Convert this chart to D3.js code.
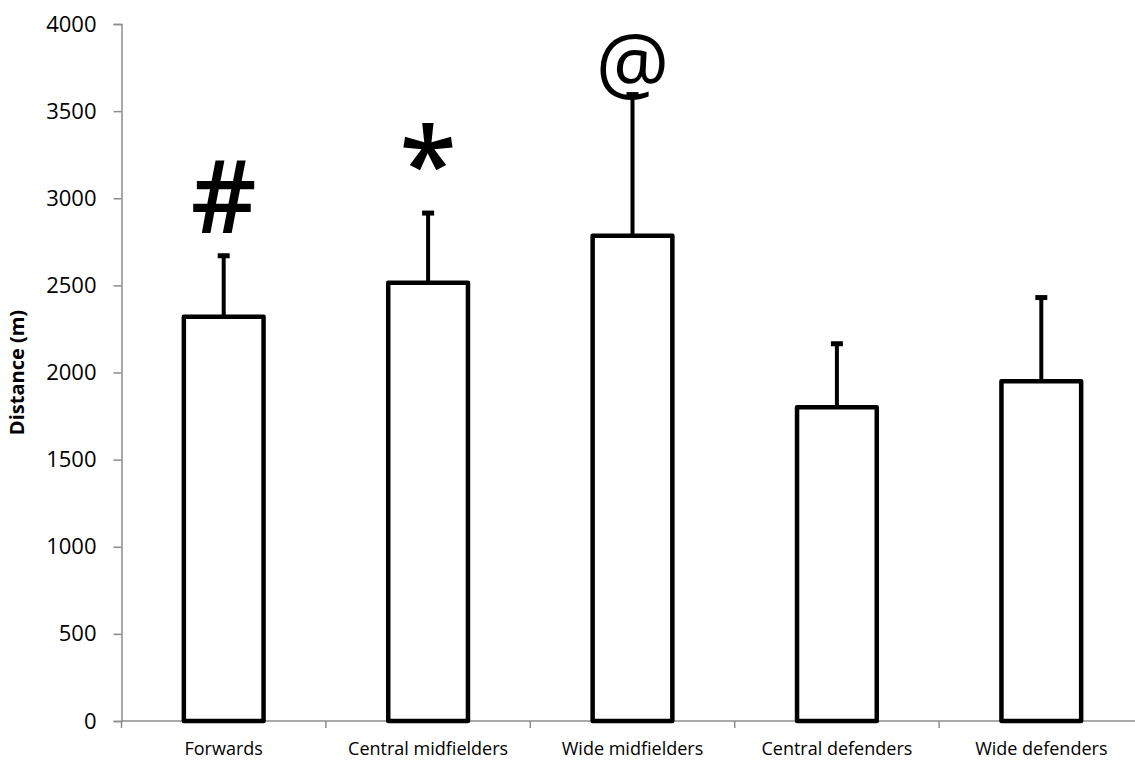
<!DOCTYPE html>
<html>
<head>
<meta charset="utf-8">
<script src="https://d3js.org/d3.v7.min.js"></script>
<style>
  html, body { margin: 0; padding: 0; background: #fff; overflow: hidden; }
  svg { display: block; font-family: "Open Sans", "Noto Sans", sans-serif; }
</style>
</head>
<body>
<svg id="chart" width="1135" height="760"></svg>
<script>
// Distance covered per playing position (mean + SD)
const positions = ["Forwards", "Central midfielders", "Wide midfielders", "Central defenders", "Wide defenders"];
const meanDistance = [2320, 2515, 2785, 1800, 1950];
const sdDistance = [350, 400, 810, 365, 480];
const markers = ["#", "*", "@", "", ""];
const yTicks = [0, 500, 1000, 1500, 2000, 2500, 3000, 3500, 4000];

// glyph-specific sizing for the significance symbols
const markerStyle = {
  "#": { size: 102, lift: 23, weight: 600 },
  "*": { size: 104, lift: 11, weight: 600 },
  "@": { size: 82, lift: 2, weight: 500 }
};

const svg = d3.select("#chart");
const W = 1135, H = 760;
const plotLeft = 121.5, plotTop = 24, plotBottom = 721;
const catStep = 204.4;
const plotRight = plotLeft + catStep * positions.length;
const fontStack = '"Open Sans", "Noto Sans", sans-serif';

const x = d3.scaleBand()
  .domain(positions)
  .range([plotLeft, plotRight])
  .paddingInner(0.61)
  .paddingOuter(0.305);

const y = d3.scaleLinear()
  .domain([0, 4000])
  .range([plotBottom, plotTop]);

const axisColor = "#8c8c8c";

// y axis
const yAxis = svg.append("g")
  .attr("transform", `translate(${plotLeft},0)`)
  .call(d3.axisLeft(y).tickValues(yTicks).tickSize(8).tickPadding(17).tickFormat(d3.format("d")))
  .attr("font-family", fontStack)
  .attr("font-size", 22);
yAxis.select(".domain").attr("stroke", axisColor).attr("stroke-width", 1.5);
yAxis.selectAll(".tick line").attr("stroke", axisColor).attr("stroke-width", 1.5);
yAxis.selectAll(".tick text").attr("fill", "#000");

// x axis with ticks at category boundaries
const bounds = d3.range(positions.length + 1).map(i => plotLeft + i * catStep);
const xg = svg.append("g");
xg.append("line")
  .attr("x1", plotLeft).attr("x2", plotRight)
  .attr("y1", y(0)).attr("y2", y(0))
  .attr("stroke", axisColor).attr("stroke-width", 1.5);
xg.selectAll("line.tk").data(bounds).join("line")
  .attr("class", "tk")
  .attr("x1", d => d).attr("x2", d => d)
  .attr("y1", y(0)).attr("y2", y(0) + 7)
  .attr("stroke", axisColor).attr("stroke-width", 1.5);
xg.selectAll("text").data(positions).join("text")
  .attr("x", d => x(d) + x.bandwidth() / 2)
  .attr("y", y(0) + 34)
  .attr("text-anchor", "middle")
  .attr("font-size", 18)
  .attr("fill", "#000")
  .text(d => d);

// y axis title
svg.append("text")
  .attr("transform", `translate(24,${(y(0) + y(4000)) / 2}) rotate(-90)`)
  .attr("text-anchor", "middle")
  .attr("font-size", 20)
  .attr("font-weight", "bold")
  .attr("fill", "#000")
  .text("Distance (m)");

const data = positions.map((p, i) => ({ p, m: meanDistance[i], sd: sdDistance[i], mk: markers[i] }));
const cx = d => x(d.p) + x.bandwidth() / 2;

// error bars (upper only)
const eb = svg.append("g").attr("stroke", "#000");
eb.selectAll("line.stem").data(data).join("line")
  .attr("class", "stem")
  .attr("x1", cx).attr("x2", cx)
  .attr("y1", d => y(d.m)).attr("y2", d => y(d.m + d.sd))
  .attr("stroke-width", 4);
eb.selectAll("line.cap").data(data).join("line")
  .attr("class", "cap")
  .attr("x1", d => cx(d) - 6).attr("x2", d => cx(d) + 6)
  .attr("y1", d => y(d.m + d.sd)).attr("y2", d => y(d.m + d.sd))
  .attr("stroke-width", 5);

// bars
svg.append("g").selectAll("rect").data(data).join("rect")
  .attr("x", d => x(d.p))
  .attr("y", d => y(d.m))
  .attr("width", x.bandwidth())
  .attr("height", d => y(0) - y(d.m))
  .attr("fill", "#fff")
  .attr("stroke", "#000")
  .attr("stroke-width", 4.5)
  .attr("stroke-linejoin", "round");

// significance markers
svg.append("g").selectAll("text").data(data.filter(d => d.mk)).join("text")
  .attr("x", cx)
  .attr("y", d => y(d.m + d.sd) - markerStyle[d.mk].lift)
  .attr("text-anchor", "middle")
  .attr("font-size", d => markerStyle[d.mk].size)
  .attr("font-weight", d => markerStyle[d.mk].weight)
  .attr("fill", "#000")
  .text(d => d.mk);
</script>
</body>
</html>
